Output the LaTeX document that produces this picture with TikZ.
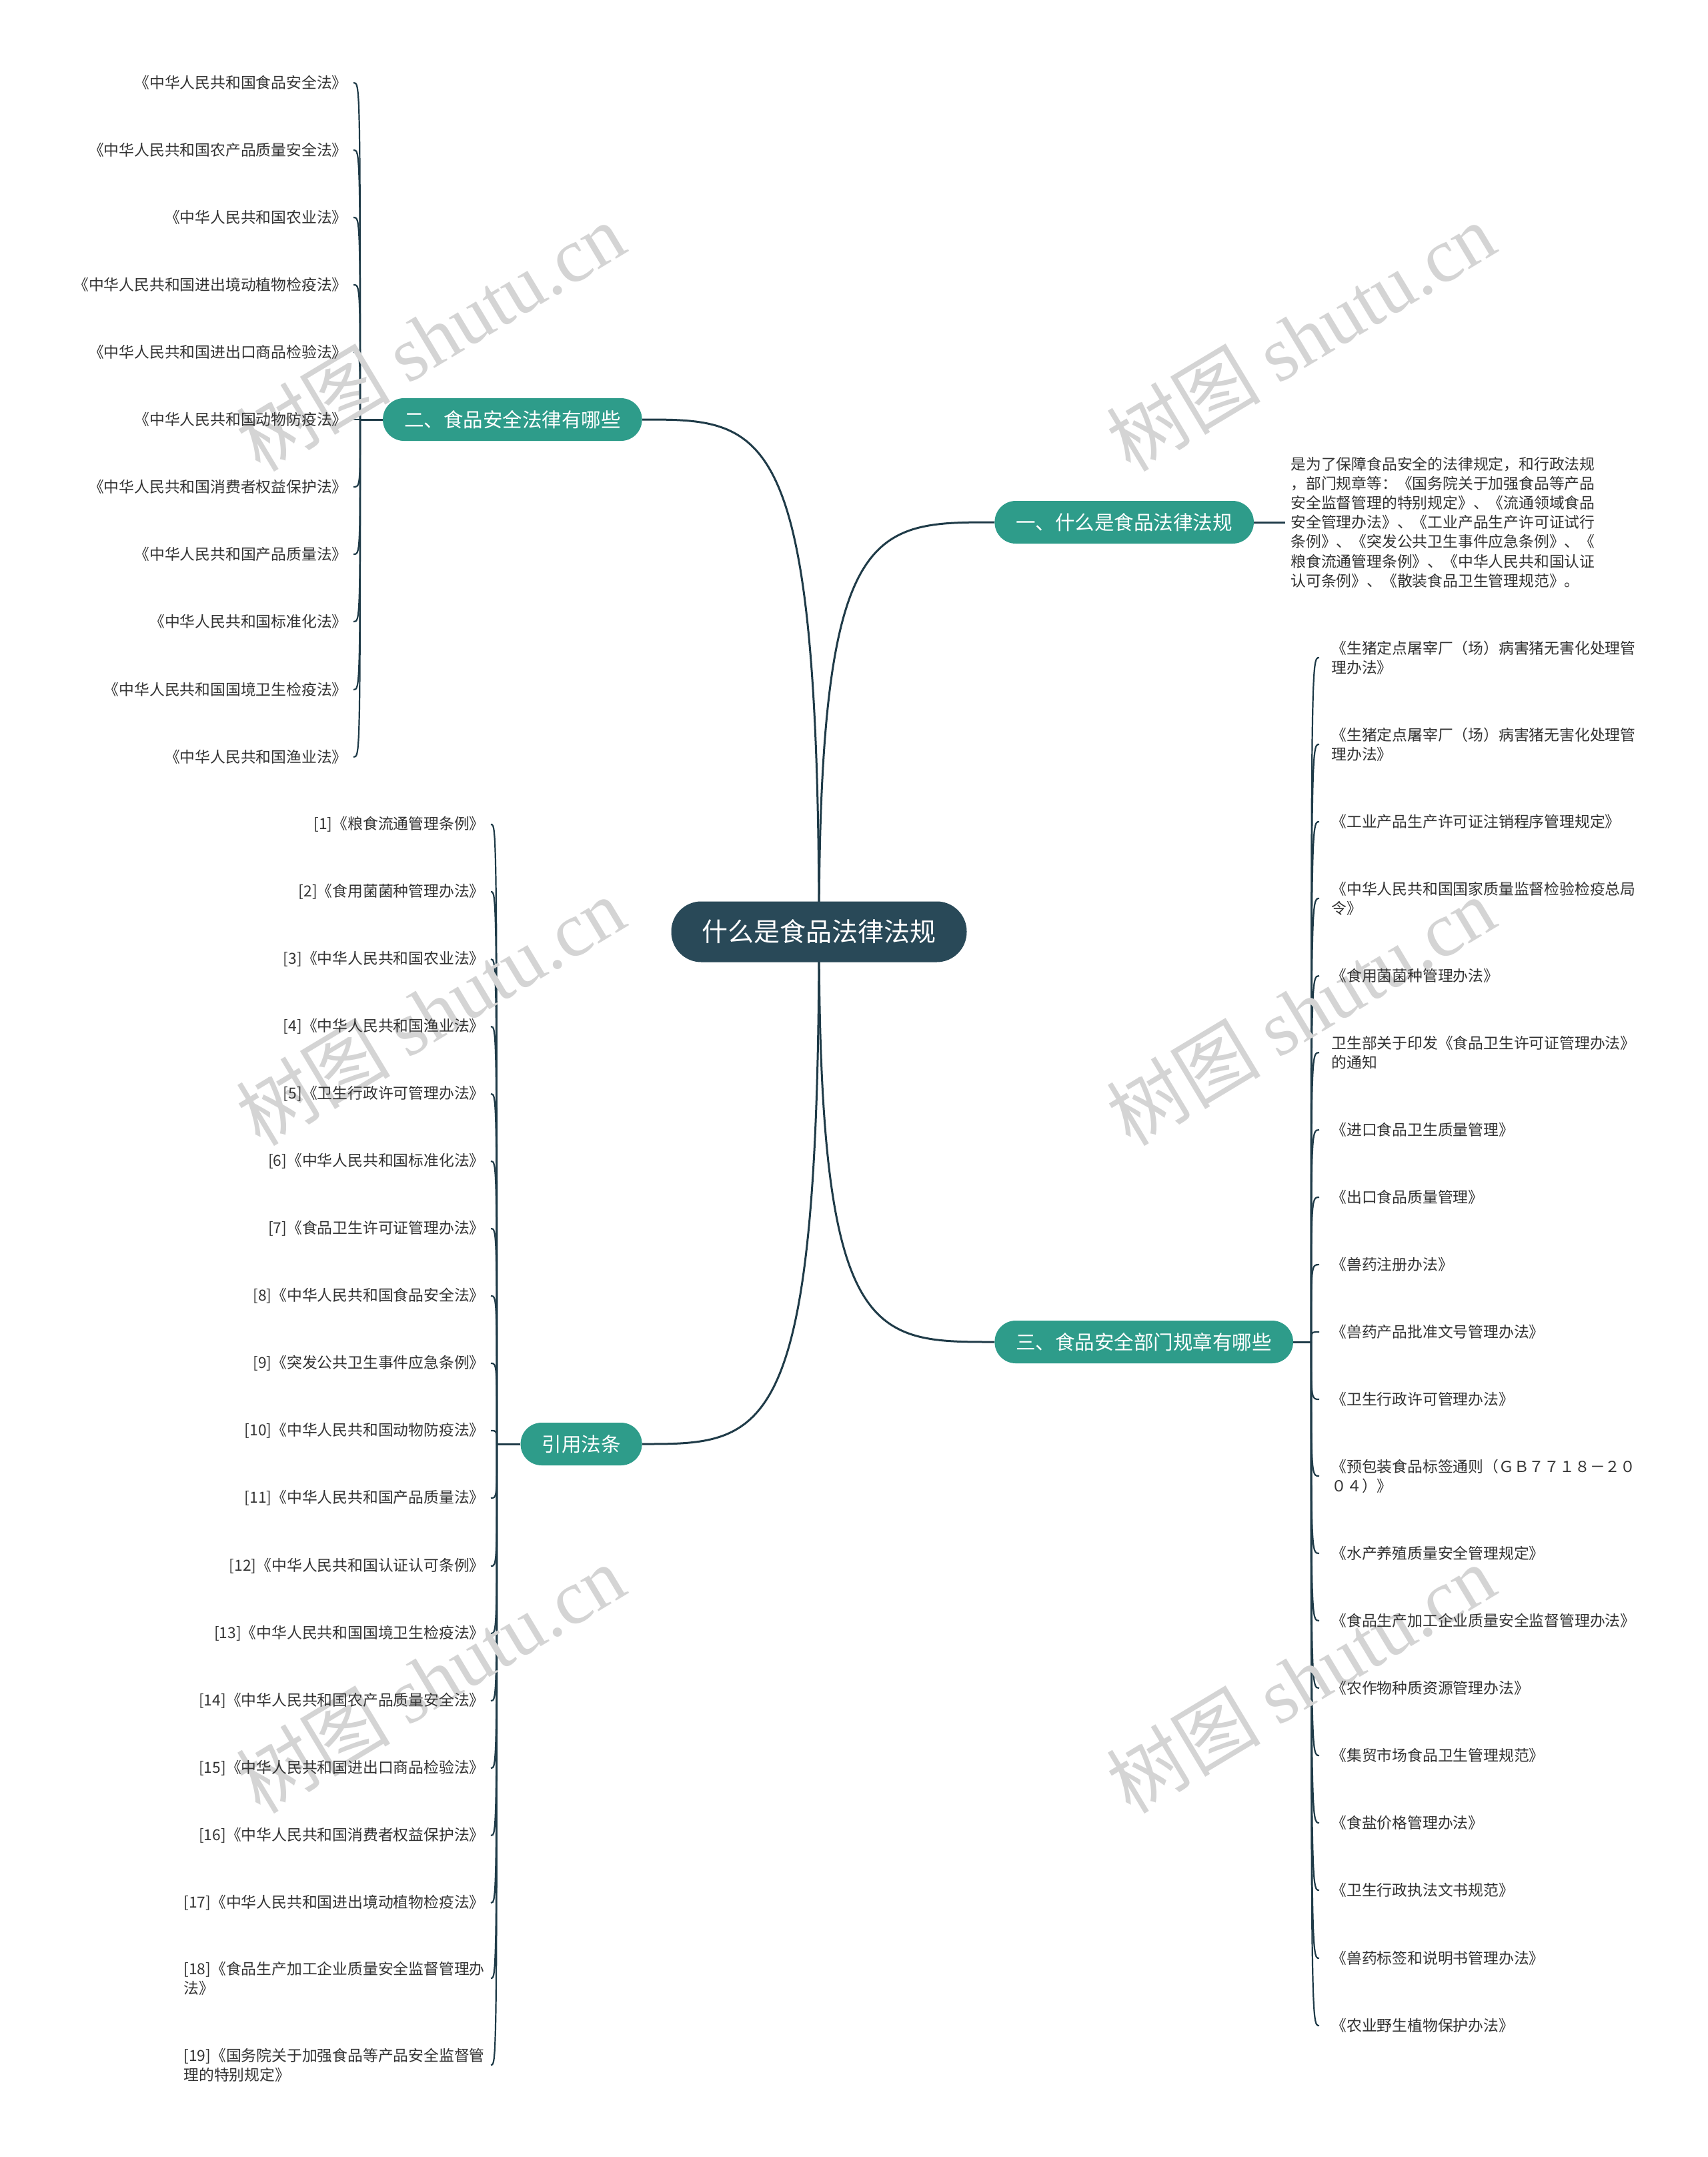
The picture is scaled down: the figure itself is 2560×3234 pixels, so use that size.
\documentclass[tikz,border=0pt]{standalone}
\usepackage{fontspec}
\setmainfont{Noto Sans CJK SC}
\newfontfamily\wmfont{Liberation Serif}
\usetikzlibrary{calc}
\definecolor{rootc}{HTML}{294958}
\definecolor{brc}{HTML}{2E9C8A}
\definecolor{linec}{HTML}{1F3B48}
\definecolor{txtc}{HTML}{333333}
\pgfdeclarelayer{bg}
\pgfdeclarelayer{wmlayer}
\pgfsetlayers{bg,wmlayer,main}
\begin{document}
\begin{tikzpicture}[x=0.5pt,y=-0.5pt,
 rootnode/.style={fill=rootc, text=white, rounded corners=22.5pt, minimum height=45.5pt, inner xsep=23pt, inner ysep=0pt, font=\fontsize{19.5}{22}\selectfont},
 branch/.style={fill=brc, text=white, rounded corners=15.8pt, minimum height=32pt, inner xsep=16pt, inner ysep=0pt, font=\fontsize{14.75}{17}\selectfont},
 leafL/.style={anchor=east, inner xsep=9pt, inner ysep=0pt, align=left, text=txtc, font=\fontsize{11.4}{14.5}\selectfont},
 leafR/.style={anchor=west, inner xsep=9pt, inner ysep=0pt, align=left, text=txtc, font=\fontsize{11.4}{14.5}\selectfont},
 conn/.style={draw=linec, line width=1.5pt},
 lconn/.style={draw=linec, line width=1.1pt},
 wm/.style={text=black!17, rotate=31, font=\fontsize{58}{64}\selectfont}
]
\begin{pgfonlayer}{bg}
\fill[white] (0,0) rectangle (2560,3234);
\end{pgfonlayer}
\useasboundingbox (0,0) rectangle (2560,3234);

% watermarks
\begin{pgfonlayer}{wmlayer}
\foreach \wx/\wy in {645/505,1950/505,645/1516,1950/1516,645/2517,1950/2517}{
  \node[wm] at (\wx,\wy) {树图 {\wmfont shutu.cn}};
}
\end{pgfonlayer}

% root and branches
\node[rootnode] (root) at (1228,1397) {什么是食品法律法规};
\node[branch, anchor=west] (b1) at (1491,783) {一、什么是食品法律法规};
\node[branch, anchor=east] (b2) at (963,629) {二、食品安全法律有哪些};
\node[branch, anchor=west] (b3) at (1491,2012) {三、食品安全部门规章有哪些};
\node[branch, anchor=east] (b4) at (963,2165) {引用法条};

\begin{pgfonlayer}{bg}
\draw[conn] (root.center) .. controls (root.center |- b1.west) and ($(root.center |- b1.west)!0.3!(b1.west)$) .. (b1.west);
\draw[conn] (root.center) .. controls (root.center |- b2.east) and ($(root.center |- b2.east)!0.3!(b2.east)$) .. (b2.east);
\draw[conn] (root.center) .. controls (root.center |- b3.west) and ($(root.center |- b3.west)!0.3!(b3.west)$) .. (b3.west);
\draw[conn] (root.center) .. controls (root.center |- b4.east) and ($(root.center |- b4.east)!0.3!(b4.east)$) .. (b4.east);
\end{pgfonlayer}

% branch 1 text
\node[leafR, inner xsep=4pt, font=\fontsize{11.4}{14.6}\selectfont] (intro) at (1927,783) {是为了保障食品安全的法律规定，和行政法规\\，部门规章等：《国务院关于加强食品等产品\\安全监督管理的特别规定》、《流通领域食品\\安全管理办法》、《工业产品生产许可证试行\\条例》、《突发公共卫生事件应急条例》、《\\粮食流通管理条例》、《中华人民共和国认证\\认可条例》、《散装食品卫生管理规范》。};
\draw[conn] (b1.east) -- (intro.west);

% branch 2 leaves
\coordinate (j2) at (540,629);
\draw[conn] (b2.west) -- (j2);
\foreach \i/\y/\t in {
 1/124/{《中华人民共和国食品安全法》},
 2/225/{《中华人民共和国农产品质量安全法》},
 3/326/{《中华人民共和国农业法》},
 4/427/{《中华人民共和国进出境动植物检疫法》},
 5/528/{《中华人民共和国进出口商品检验法》},
 6/629/{《中华人民共和国动物防疫法》},
 7/730/{《中华人民共和国消费者权益保护法》},
 8/831/{《中华人民共和国产品质量法》},
 9/932/{《中华人民共和国标准化法》},
 10/1034/{《中华人民共和国国境卫生检疫法》},
 11/1135/{《中华人民共和国渔业法》}}{
  \node[leafL, inner xsep=4.5pt] (a\i) at (530,\y) {\t};
  \begin{pgfonlayer}{bg}
  \draw[lconn] (j2) .. controls (j2 |- a\i.east) and (j2 |- a\i.east) .. (a\i.east);
  \end{pgfonlayer}
}

% branch 3 leaves
\coordinate (j3) at (1966,2012);
\draw[conn] (b3.east) -- (j3);
\foreach \i/\y/\t in {
 1/986/{《生猪定点屠宰厂（场）病害猪无害化处理管\\理办法》},
 2/1116/{《生猪定点屠宰厂（场）病害猪无害化处理管\\理办法》},
 3/1232/{《工业产品生产许可证注销程序管理规定》},
 4/1347/{《中华人民共和国国家质量监督检验检疫总局\\令》},
 5/1463/{《食用菌菌种管理办法》},
 6/1578/{卫生部关于印发《食品卫生许可证管理办法》\\的通知},
 7/1694/{《进口食品卫生质量管理》},
 8/1795/{《出口食品质量管理》},
 9/1896/{《兽药注册办法》},
 10/1997/{《兽药产品批准文号管理办法》},
 11/2098/{《卫生行政许可管理办法》},
 12/2213/{《预包装食品标签通则（ＧＢ７７１８－２０\\０４）》},
 13/2329/{《水产养殖质量安全管理规定》},
 14/2430/{《食品生产加工企业质量安全监督管理办法》},
 15/2531/{《农作物种质资源管理办法》},
 16/2632/{《集贸市场食品卫生管理规范》},
 17/2733/{《食盐价格管理办法》},
 18/2834/{《卫生行政执法文书规范》},
 19/2936/{《兽药标签和说明书管理办法》},
 20/3037/{《农业野生植物保护办法》}}{
  \node[leafR] (c\i) at (1978,\y) {\t};
  \begin{pgfonlayer}{bg}
  \draw[lconn] (j3) .. controls (j3 |- c\i.west) and (j3 |- c\i.west) .. (c\i.west);
  \end{pgfonlayer}
}

% branch 4 leaves
\coordinate (j4) at (745,2165);
\draw[conn] (b4.west) -- (j4);
\foreach \i/\y/\t in {
 1/1236/{[1]《粮食流通管理条例》},
 2/1337/{[2]《食用菌菌种管理办法》},
 3/1438/{[3]《中华人民共和国农业法》},
 4/1539/{[4]《中华人民共和国渔业法》},
 5/1640/{[5]《卫生行政许可管理办法》},
 6/1741/{[6]《中华人民共和国标准化法》},
 7/1842/{[7]《食品卫生许可证管理办法》},
 8/1943/{[8]《中华人民共和国食品安全法》},
 9/2044/{[9]《突发公共卫生事件应急条例》},
 10/2145/{[10]《中华人民共和国动物防疫法》},
 11/2246/{[11]《中华人民共和国产品质量法》},
 12/2348/{[12]《中华人民共和国认证认可条例》},
 13/2449/{[13]《中华人民共和国国境卫生检疫法》},
 14/2550/{[14]《中华人民共和国农产品质量安全法》},
 15/2651/{[15]《中华人民共和国进出口商品检验法》},
 16/2752/{[16]《中华人民共和国消费者权益保护法》},
 17/2853/{[17]《中华人民共和国进出境动植物检疫法》},
 18/2966/{[18]《食品生产加工企业质量安全监督管理办\\法》},
 19/3096/{[19]《国务院关于加强食品等产品安全监督管\\理的特别规定》}}{
  \node[leafL, inner xsep=4.5pt] (d\i) at (736,\y) {\t};
  \begin{pgfonlayer}{bg}
  \draw[lconn] (j4) .. controls (j4 |- d\i.east) and (j4 |- d\i.east) .. (d\i.east);
  \end{pgfonlayer}
}
\end{tikzpicture}
\end{document}
